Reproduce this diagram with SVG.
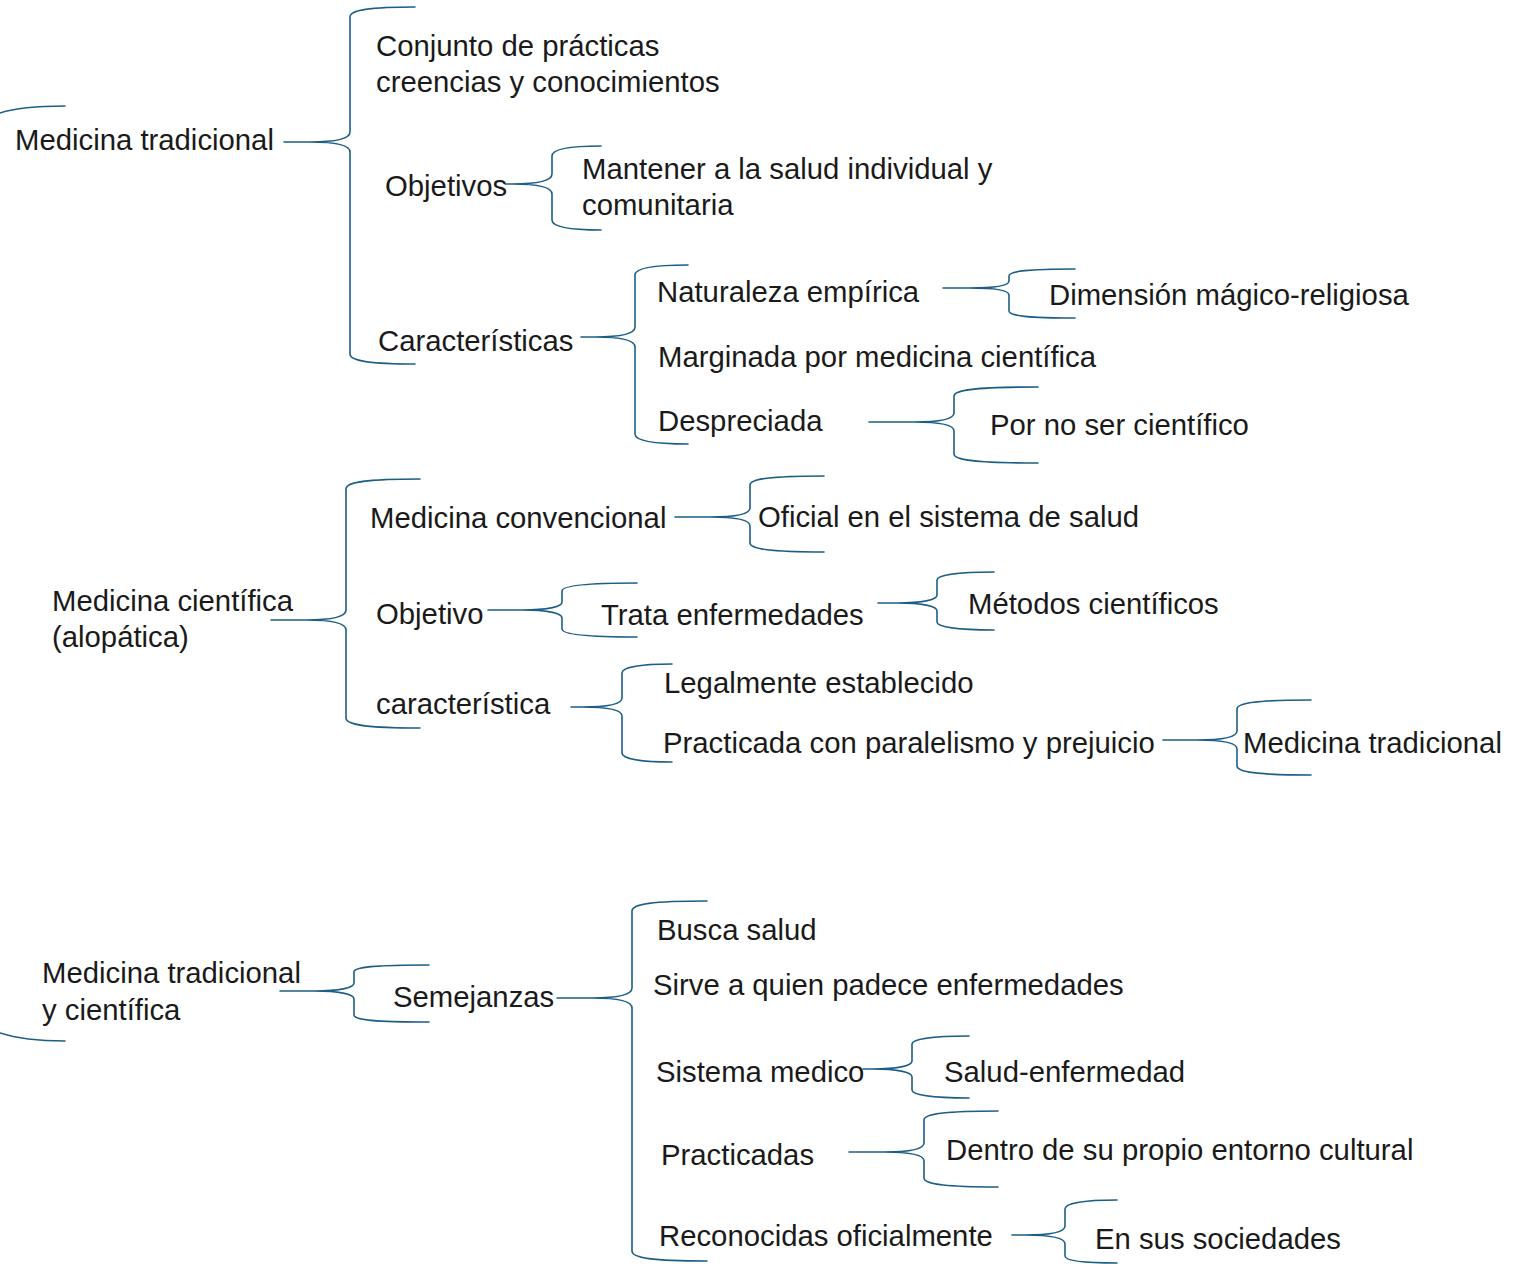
<svg xmlns="http://www.w3.org/2000/svg" width="1522" height="1264" viewBox="0 0 1522 1264">
<style>
.br{fill:none;stroke:#1c5e86;stroke-width:1.6;stroke-linecap:round;stroke-linejoin:round}
.t{font-family:"Liberation Sans",Arial,Helvetica,sans-serif;font-size:29.3px;fill:#1a1a1a}
</style>
<rect width="1522" height="1264" fill="#ffffff"/>
<g id="connectors">
<path class="br" d="M0,113 C15,108 35,106 65,106"/>
<path class="br" d="M0,1033 C15,1038 35,1041 65,1041"/>
<path class="br" d="M284,142 L310,142 C335,142 350,139 350,132 L350,17 C350,10 370,7 415,7 M310,142 C335,142 350,145 350,152 L350,354 C350,361 370,364 415,364"/>
<path class="br" d="M505,184 L512,184 C537,184 552,181 552,174 L552,156 C552,149 572,146 601,146 M512,184 C537,184 552,187 552,194 L552,220 C552,227 572,230 601,230"/>
<path class="br" d="M581,337 L595,337 C620,337 635,334 635,327 L635,275 C635,268 655,265 688,265 M595,337 C620,337 635,340 635,347 L635,434 C635,441 655,444 688,444"/>
<path class="br" d="M943,288 L969,288 C994,288 1009,286 1009,281 L1009,276 C1009,271 1029,269 1075,269 M969,288 C994,288 1009,290 1009,295 L1009,311 C1009,316 1029,318 1075,318"/>
<path class="br" d="M869,422 L914,422 C939,422 954,419 954,413 L954,396 C954,390 974,387 1038,387 M914,422 C939,422 954,425 954,431 L954,454 C954,460 974,463 1038,463"/>
<path class="br" d="M271,620 L306,620 C331,620 346,617 346,610 L346,489 C346,482 366,479 420,479 M306,620 C331,620 346,623 346,630 L346,718 C346,725 366,728 420,728"/>
<path class="br" d="M675,517 L710,517 C735,517 750,514 750,508 L750,485 C750,479 770,476 824,476 M710,517 C735,517 750,520 750,526 L750,543 C750,549 770,552 824,552"/>
<path class="br" d="M488,610 L522,610 C547,610 562,607 562,602 L562,591 C562,586 582,583 637,583 M522,610 C547,610 562,613 562,618 L562,629 C562,634 582,637 637,637"/>
<path class="br" d="M878,603 L897,603 C922,603 937,600 937,595 L937,580 C937,575 957,572 994,572 M897,603 C922,603 937,606 937,611 L937,622 C937,627 957,630 994,630"/>
<path class="br" d="M571,707 L582,707 C607,707 622,704 622,698 L622,673 C622,667 642,664 672,664 M582,707 C607,707 622,710 622,716 L622,753 C622,759 642,762 672,762"/>
<path class="br" d="M1163,740 L1197,740 C1222,740 1237,737 1237,731 L1237,709 C1237,703 1257,700 1311,700 M1197,740 C1222,740 1237,743 1237,749 L1237,766 C1237,772 1257,775 1311,775"/>
<path class="br" d="M280,991 L314,991 C339,991 354,988 354,983 L354,972 C354,967 374,965 429,965 M314,991 C339,991 354,994 354,999 L354,1015 C354,1020 374,1022 429,1022"/>
<path class="br" d="M557,998 L592,998 C617,998 632,995 632,988 L632,911 C632,904 652,901 707,901 M592,998 C617,998 632,1001 632,1008 L632,1251 C632,1258 652,1261 707,1261"/>
<path class="br" d="M863,1069 L872,1069 C897,1069 912,1066 912,1061 L912,1044 C912,1039 932,1036 969,1036 M872,1069 C897,1069 912,1072 912,1077 L912,1090 C912,1095 932,1098 969,1098"/>
<path class="br" d="M849,1152 L884,1152 C909,1152 924,1149 924,1143 L924,1120 C924,1114 944,1111 998,1111 M884,1152 C909,1152 924,1155 924,1161 L924,1178 C924,1184 944,1187 998,1187"/>
<path class="br" d="M1012,1235 L1025,1235 C1050,1235 1065,1232 1065,1226 L1065,1209 C1065,1203 1085,1200 1117,1200 M1025,1235 C1050,1235 1065,1238 1065,1244 L1065,1256 C1065,1261 1085,1263 1117,1263"/>
</g>
<g id="n-medicina-tradicional"><text class="t" x="15" y="150">Medicina tradicional</text></g>
<g id="n-conjunto"><text class="t" x="376" y="56">Conjunto de prácticas</text><text class="t" x="376" y="92">creencias y conocimientos</text></g>
<g id="n-objetivos"><text class="t" x="385" y="196">Objetivos</text></g>
<g id="n-mantener"><text class="t" x="582" y="179">Mantener a la salud individual y</text><text class="t" x="582" y="215">comunitaria</text></g>
<g id="n-caracteristicas"><text class="t" x="378" y="351">Características</text></g>
<g id="n-naturaleza"><text class="t" x="657" y="302">Naturaleza empírica</text></g>
<g id="n-dimension"><text class="t" x="1049" y="305">Dimensión mágico-religiosa</text></g>
<g id="n-marginada"><text class="t" x="658" y="367">Marginada por medicina científica</text></g>
<g id="n-despreciada"><text class="t" x="658" y="431">Despreciada</text></g>
<g id="n-porno"><text class="t" x="990" y="435">Por no ser científico</text></g>
<g id="n-medicina-cientifica"><text class="t" x="52" y="611">Medicina científica</text><text class="t" x="52" y="647">(alopática)</text></g>
<g id="n-convencional"><text class="t" x="370" y="528">Medicina convencional</text></g>
<g id="n-oficial"><text class="t" x="758" y="527">Oficial en el sistema de salud</text></g>
<g id="n-objetivo"><text class="t" x="376" y="624">Objetivo</text></g>
<g id="n-trata"><text class="t" x="601" y="625">Trata enfermedades</text></g>
<g id="n-metodos"><text class="t" x="968" y="614">Métodos científicos</text></g>
<g id="n-caracteristica"><text class="t" x="376" y="714">característica</text></g>
<g id="n-legalmente"><text class="t" x="664" y="693">Legalmente establecido</text></g>
<g id="n-practicada"><text class="t" x="663" y="753">Practicada con paralelismo y prejuicio</text></g>
<g id="n-medtrad2"><text class="t" x="1243" y="753">Medicina tradicional</text></g>
<g id="n-ambas"><text class="t" x="42" y="983">Medicina tradicional</text><text class="t" x="42" y="1020">y científica</text></g>
<g id="n-semejanzas"><text class="t" x="393" y="1007">Semejanzas</text></g>
<g id="n-busca"><text class="t" x="657" y="940">Busca salud</text></g>
<g id="n-sirve"><text class="t" x="653" y="995">Sirve a quien padece enfermedades</text></g>
<g id="n-sistema"><text class="t" x="656" y="1082">Sistema medico</text></g>
<g id="n-salud"><text class="t" x="944" y="1082">Salud-enfermedad</text></g>
<g id="n-practicadas"><text class="t" x="661" y="1165">Practicadas</text></g>
<g id="n-dentro"><text class="t" x="946" y="1160">Dentro de su propio entorno cultural</text></g>
<g id="n-reconocidas"><text class="t" x="659" y="1246">Reconocidas oficialmente</text></g>
<g id="n-sociedades"><text class="t" x="1095" y="1249">En sus sociedades</text></g>
</svg>
